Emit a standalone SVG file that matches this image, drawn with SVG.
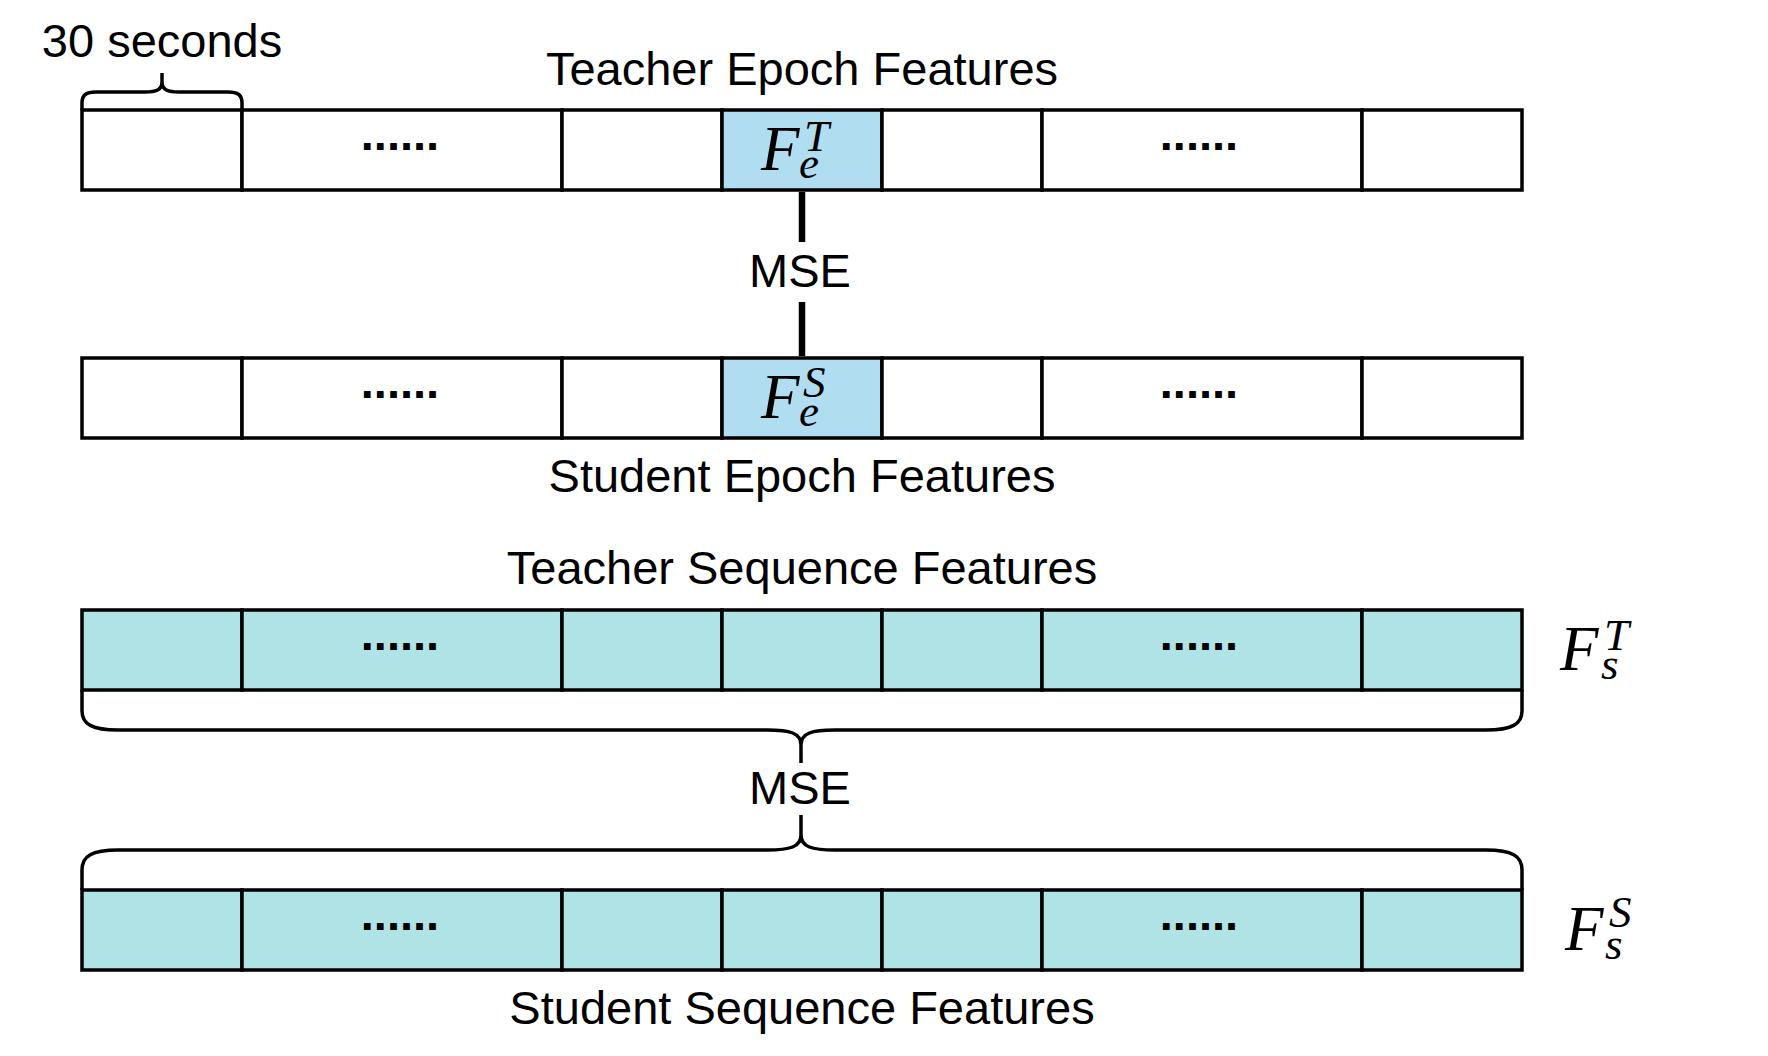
<svg xmlns="http://www.w3.org/2000/svg" width="1768" height="1056" viewBox="0 0 1768 1056">
<style>
.cell{stroke:#000;stroke-width:3.5;}
.w{fill:#fff;}
.hb{fill:#b1ddf0;}
.sq{fill:#b0e3e6;}
.lbl{font-family:"Liberation Sans",Arial,Helvetica,sans-serif;font-size:47px;fill:#000;text-anchor:middle;}
.dots{font-family:"Liberation Sans",Arial,sans-serif;font-weight:bold;font-size:47px;fill:#000;text-anchor:middle;}
.m{font-family:"Liberation Serif","DejaVu Serif",serif;font-style:italic;fill:#000;}
.mF{font-size:63px;}
.mS{font-size:45px;}
.br{fill:none;stroke:#000;stroke-width:3.5;stroke-linejoin:round;}
</style>
<rect width="1768" height="1056" fill="#fff"/>

<g id="teacher-epoch-row">
  <rect class="cell w" x="82" y="110" width="160" height="80"/>
  <rect class="cell w" x="242" y="110" width="320" height="80"/>
  <rect class="cell w" x="562" y="110" width="160" height="80"/>
  <rect class="cell hb" x="722" y="110" width="160" height="80"/>
  <rect class="cell w" x="882" y="110" width="160" height="80"/>
  <rect class="cell w" x="1042" y="110" width="320" height="80"/>
  <rect class="cell w" x="1362" y="110" width="160" height="80"/>
  <text class="dots" x="400" y="150">......</text>
  <text class="dots" x="1199" y="150">......</text>
  <text class="m"><tspan class="mF" x="761" y="170">F</tspan><tspan class="mS" x="804" y="150.5">T</tspan><tspan class="mS" x="799" y="178">e</tspan></text>
</g>

<g id="student-epoch-row">
  <rect class="cell w" x="82" y="358" width="160" height="80"/>
  <rect class="cell w" x="242" y="358" width="320" height="80"/>
  <rect class="cell w" x="562" y="358" width="160" height="80"/>
  <rect class="cell hb" x="722" y="358" width="160" height="80"/>
  <rect class="cell w" x="882" y="358" width="160" height="80"/>
  <rect class="cell w" x="1042" y="358" width="320" height="80"/>
  <rect class="cell w" x="1362" y="358" width="160" height="80"/>
  <text class="dots" x="400" y="398">......</text>
  <text class="dots" x="1199" y="398">......</text>
  <text class="m"><tspan class="mF" x="761" y="418">F</tspan><tspan class="mS" x="803" y="397">S</tspan><tspan class="mS" x="799" y="426">e</tspan></text>
</g>

<g id="teacher-sequence-row">
  <rect class="cell sq" x="82" y="610" width="160" height="80"/>
  <rect class="cell sq" x="242" y="610" width="320" height="80"/>
  <rect class="cell sq" x="562" y="610" width="160" height="80"/>
  <rect class="cell sq" x="722" y="610" width="160" height="80"/>
  <rect class="cell sq" x="882" y="610" width="160" height="80"/>
  <rect class="cell sq" x="1042" y="610" width="320" height="80"/>
  <rect class="cell sq" x="1362" y="610" width="160" height="80"/>
  <text class="dots" x="400" y="650">......</text>
  <text class="dots" x="1199" y="650">......</text>
</g>

<g id="student-sequence-row">
  <rect class="cell sq" x="82" y="890" width="160" height="80"/>
  <rect class="cell sq" x="242" y="890" width="320" height="80"/>
  <rect class="cell sq" x="562" y="890" width="160" height="80"/>
  <rect class="cell sq" x="722" y="890" width="160" height="80"/>
  <rect class="cell sq" x="882" y="890" width="160" height="80"/>
  <rect class="cell sq" x="1042" y="890" width="320" height="80"/>
  <rect class="cell sq" x="1362" y="890" width="160" height="80"/>
  <text class="dots" x="400" y="930">......</text>
  <text class="dots" x="1199" y="930">......</text>
</g>

<g id="label-fsT">
  <text class="m"><tspan class="mF" x="1560" y="670">F</tspan><tspan class="mS" x="1604" y="650">T</tspan><tspan class="mS" x="1601" y="679">s</tspan></text>
</g>
<g id="label-fsS">
  <text class="m"><tspan class="mF" x="1565" y="950">F</tspan><tspan class="mS" x="1609" y="927">S</tspan><tspan class="mS" x="1605" y="959">s</tspan></text>
</g>

<g id="labels">
  <text class="lbl" x="162" y="57">30 seconds</text>
  <text class="lbl" x="802" y="85">Teacher Epoch Features</text>
  <text class="lbl" x="800" y="287">MSE</text>
  <text class="lbl" x="802" y="492">Student Epoch Features</text>
  <text class="lbl" x="802" y="584">Teacher Sequence Features</text>
  <text class="lbl" x="800" y="804">MSE</text>
  <text class="lbl" x="802" y="1024">Student Sequence Features</text>
</g>

<g id="connectors">
  <line x1="802" y1="192" x2="802" y2="242" stroke="#000" stroke-width="6.5"/>
  <line x1="802" y1="302" x2="802" y2="356" stroke="#000" stroke-width="6.5"/>
  <path class="br" d="M82,110 L82,103 C82,95 86,92 96,92 L145,92 C156,92 162,90 162,82 L162,73 M162,82 C162,90 168,92 179,92 L228,92 C238,92 242,95 242,103 L242,110"/>
  <path class="br" d="M82,690 L82,711 C82,724 92,730 118,730 L767,730 C790,730 801,733 801,745 L801,763 M801,745 C801,733 812,730 835,730 L1486,730 C1512,730 1522,724 1522,711 L1522,690"/>
  <path class="br" d="M82,890 L82,870 C82,856 92,850 118,850 L767,850 C790,850 801,847 801,835 L801,815 M801,835 C801,847 812,850 835,850 L1486,850 C1512,850 1522,856 1522,870 L1522,890"/>
</g>
</svg>
